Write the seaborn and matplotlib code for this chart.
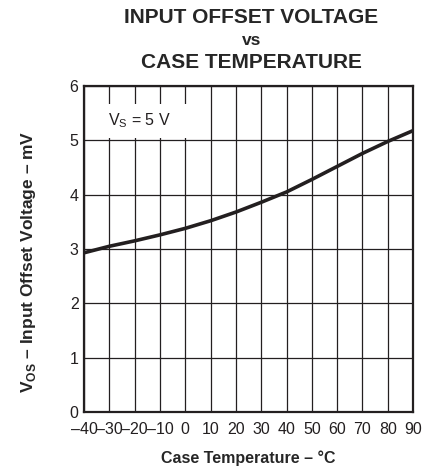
import pandas as pd
import matplotlib.pyplot as plt
import seaborn as sns

# case temperature (deg C) and input offset voltage (mV)
temp = [-40, -30, -20, -10, 0, 10, 20, 30, 40, 50, 60, 70, 80, 90]
vos = [2.93, 3.05, 3.15, 3.26, 3.38, 3.52, 3.68, 3.86, 4.05, 4.28, 4.52, 4.76, 4.98, 5.18]

xticks = list(range(-40, 91, 10))
xlabels = [str(t).replace('-', '\u2013') for t in xticks]
yticks = [0, 1, 2, 3, 4, 5, 6]

df = pd.DataFrame({'Temp': temp, 'VOS': vos})

sns.set_style('white')
plt.rcParams['font.family'] = ['Liberation Sans', 'DejaVu Sans']
plt.rcParams['mathtext.fontset'] = 'custom'
plt.rcParams['mathtext.rm'] = 'Liberation Sans'
plt.rcParams['mathtext.bf'] = 'Liberation Sans:bold'

fig = plt.figure(figsize=(4.38, 4.68), dpi=100)
ax = fig.add_axes([0.192, 0.12, 0.751, 0.696])

sns.lineplot(data=df, x='Temp', y='VOS', color='#231f20', linewidth=2.6, ax=ax, zorder=3)

ax.set_xlim(-40, 90)
ax.set_ylim(0, 6)
ax.set_xticks(xticks)
ax.set_xticklabels(xlabels)
ax.set_yticks(yticks)
ax.grid(True, color='#231f20', linewidth=0.9)
ax.tick_params(length=0, labelsize=11.5, colors='#231f20', pad=4)
ax.tick_params(axis='x', pad=7)
for s in ax.spines.values():
    s.set_color('#231f20')
    s.set_linewidth(1.6)

ax.set_xlabel('Case Temperature \u2013 \u00b0C', fontsize=11.5, fontweight='bold')
ax.xaxis.set_label_coords(0.5, -0.118)
ax.set_ylabel('V$_\\mathbf{OS}$ \u2013 Input Offset Voltage \u2013 mV', fontsize=12.5,
              fontweight='bold')
ax.yaxis.set_label_coords(-0.14, 0.46)

# white box behind the supply note, wide enough to break the grid up to 0 degC
ax.text(-30.5, 5.36, 'V$_\\mathrm{S}$ = 5 V     ', fontsize=11.5, color='#231f20', va='center',
        bbox=dict(facecolor='white', edgecolor='none', pad=5.5), zorder=4)

fig.text(0.574, 0.962, 'INPUT OFFSET VOLTAGE', ha='center', va='center', fontsize=15, fontweight='bold')
fig.text(0.574, 0.914, 'vs', ha='center', va='center', fontsize=12.5, fontweight='bold')
fig.text(0.574, 0.866, 'CASE TEMPERATURE', ha='center', va='center', fontsize=15, fontweight='bold')

fig.savefig('out.png', dpi=100)
